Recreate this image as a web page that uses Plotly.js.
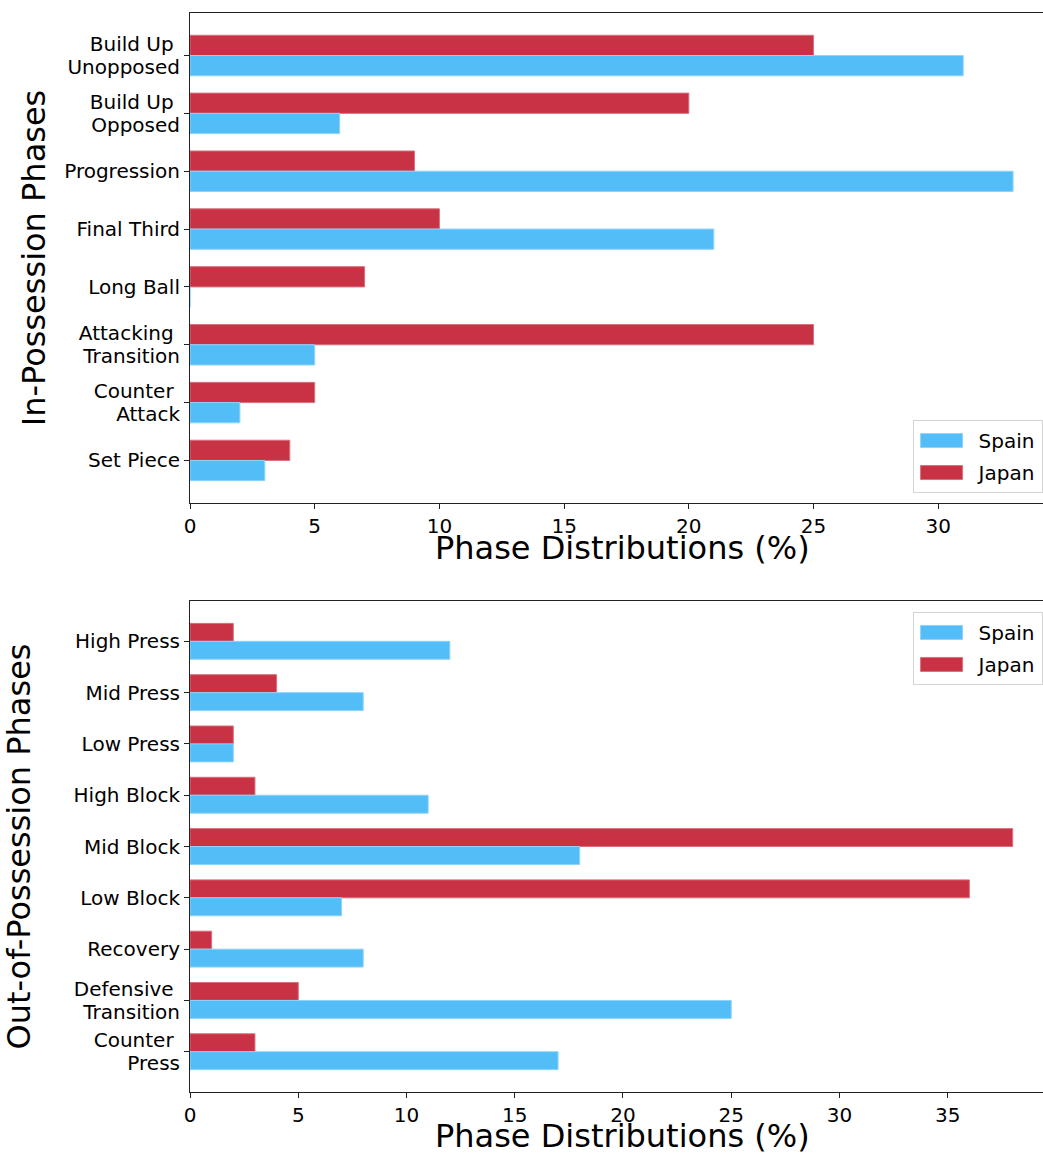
<!DOCTYPE html>
<html>
<head>
<meta charset="utf-8">
<script src="https://cdn.plot.ly/plotly-3.0.1.min.js"></script>
<style>
  html, body { margin: 0; padding: 0; background: #ffffff; }
  #chart { width: 1043px; height: 1154px; }
</style>
</head>
<body>
<div id="chart"></div>
<script>
// In-possession phases (share of time, %)
const inPhases = ['Build Up Unopposed', 'Build Up Opposed', 'Progression', 'Final Third',
                  'Long Ball', 'Attacking Transition', 'Counter Attack', 'Set Piece'];
const inLabels = ['Build Up\u00a0<br>Unopposed', 'Build Up\u00a0<br>Opposed', 'Progression', 'Final Third',
                  'Long Ball', 'Attacking\u00a0<br>Transition', 'Counter\u00a0<br>Attack', 'Set Piece'];
const inSpain = [31, 6, 33, 21, 0, 5, 2, 3];
const inJapan = [25, 20, 9, 10, 7, 25, 5, 4];

// Out-of-possession phases (share of time, %)
const outPhases = ['High Press', 'Mid Press', 'Low Press', 'High Block', 'Mid Block',
                   'Low Block', 'Recovery', 'Defensive Transition', 'Counter Press'];
const outLabels = ['High Press', 'Mid Press', 'Low Press', 'High Block', 'Mid Block',
                   'Low Block', 'Recovery', 'Defensive\u00a0<br>Transition', 'Counter\u00a0<br>Press'];
const outSpain = [12, 8, 2, 11, 18, 7, 8, 25, 17];
const outJapan = [2, 4, 2, 3, 38, 36, 1, 5, 3];

const xTitle = 'Phase Distributions (%)';
const inTitle = 'In-Possession Phases';
const outTitle = 'Out-of-Possession Phases';

const teamColors = { Spain: '#53bdf8', Japan: '#c93244' };
const teamEdges = { Spain: '#8fd3fa', Japan: '#d9707d' };

const FONT = 'DejaVu Sans, Verdana, sans-serif';

function barTrace(team, values, cats, xa, ya, legendId, rank) {
  return {
    type: 'bar', orientation: 'h', name: team,
    x: values, y: cats, xaxis: xa, yaxis: ya,
    marker: { color: teamColors[team], line: { color: teamEdges[team], width: 1 } },
    legend: legendId, legendgroup: team + legendId, legendrank: rank,
    hoverinfo: 'x+y+name'
  };
}

// Japan drawn first so it sits above Spain within each category group
const data = [
  barTrace('Japan', inJapan, inPhases, 'x', 'y', 'legend', 2),
  barTrace('Spain', inSpain, inPhases, 'x', 'y', 'legend', 1),
  barTrace('Japan', outJapan, outPhases, 'x2', 'y2', 'legend2', 2),
  barTrace('Spain', outSpain, outPhases, 'x2', 'y2', 'legend2', 1)
];

const axisLine = { showline: true, linecolor: '#222', linewidth: 1, showgrid: false, zeroline: false,
                   ticks: 'outside', ticklen: 5, tickwidth: 1, tickcolor: '#222',
                   tickfont: { family: FONT, size: 20, color: '#000' } };

const legendStyle = {
  font: { family: FONT, size: 20, color: '#000' },
  bordercolor: '#d4d4d4', borderwidth: 1, bgcolor: 'rgba(255,255,255,0.8)',
  itemwidth: 55, tracegroupgap: 3, traceorder: 'grouped',
  xanchor: 'right', x: 0.9995
};

function xTitleNote(yPaper) {
  return { text: xTitle, xref: 'paper', yref: 'paper', x: 0.5065, y: yPaper,
           xanchor: 'center', yanchor: 'middle', showarrow: false,
           font: { family: FONT, size: 32, color: '#000' } };
}

const layout = {
  width: 1043, height: 1154,
  margin: { l: 190, r: 0, t: 13, b: 62 },
  paper_bgcolor: '#ffffff', plot_bgcolor: '#ffffff',
  barmode: 'group', bargap: 0.3, bargroupgap: 0,
  font: { family: FONT, color: '#000' },
  showlegend: true,
  xaxis: Object.assign({}, axisLine, {
    domain: [0, 1], anchor: 'y', range: [0, 34.2], dtick: 5, tick0: 0, mirror: true
  }),
  yaxis: Object.assign({}, axisLine, {
    domain: [0.5459, 1], anchor: 'x', type: 'category', range: [7.735, -0.735],
    tickmode: 'array', tickvals: inPhases, ticktext: inLabels,
    title: { text: inTitle, font: { family: FONT, size: 32 }, standoff: 8 }
  }),
  xaxis2: Object.assign({}, axisLine, {
    domain: [0, 1], anchor: 'y2', range: [0, 39.4], dtick: 5, tick0: 0, mirror: true
  }),
  yaxis2: Object.assign({}, axisLine, {
    domain: [0, 0.4550], anchor: 'x2', type: 'category', range: [8.785, -0.785],
    tickmode: 'array', tickvals: outPhases, ticktext: outLabels,
    title: { text: outTitle, font: { family: FONT, size: 32 }, standoff: 35 }
  }),
  annotations: [xTitleNote(0.5042), xTitleNote(-0.0408)],
  legend: Object.assign({}, legendStyle, { yanchor: 'bottom', y: 0.5551 }),
  legend2: Object.assign({}, legendStyle, { yanchor: 'top', y: 0.4449 })
};

Plotly.newPlot('chart', data, layout, { displayModeBar: false, staticPlot: true }).then(function (gd) {
  // widen the legend swatches into bar-shaped patches
  gd.querySelectorAll('.legendpoints path').forEach(function (p) {
    p.setAttribute('d', 'M16.5,7H-25.5V-7H16.5Z');
  });
  // tighten the line spacing of two-line category labels, keeping them centred on the tick
  gd.querySelectorAll('.yaxislayer-above text').forEach(function (t) {
    const lines = t.querySelectorAll('tspan.line');
    if (lines.length < 2) return;
    const b0 = t.getBBox();
    lines[1].setAttribute('dy', '1.15em');
    const b1 = t.getBBox();
    const d = (b0.y + b0.height / 2) - (b1.y + b1.height / 2);
    const tr = t.getAttribute('transform') || '';
    t.setAttribute('transform', (tr + ' translate(0,' + d.toFixed(2) + ')').trim());
  });
});
</script>
</body>
</html>
